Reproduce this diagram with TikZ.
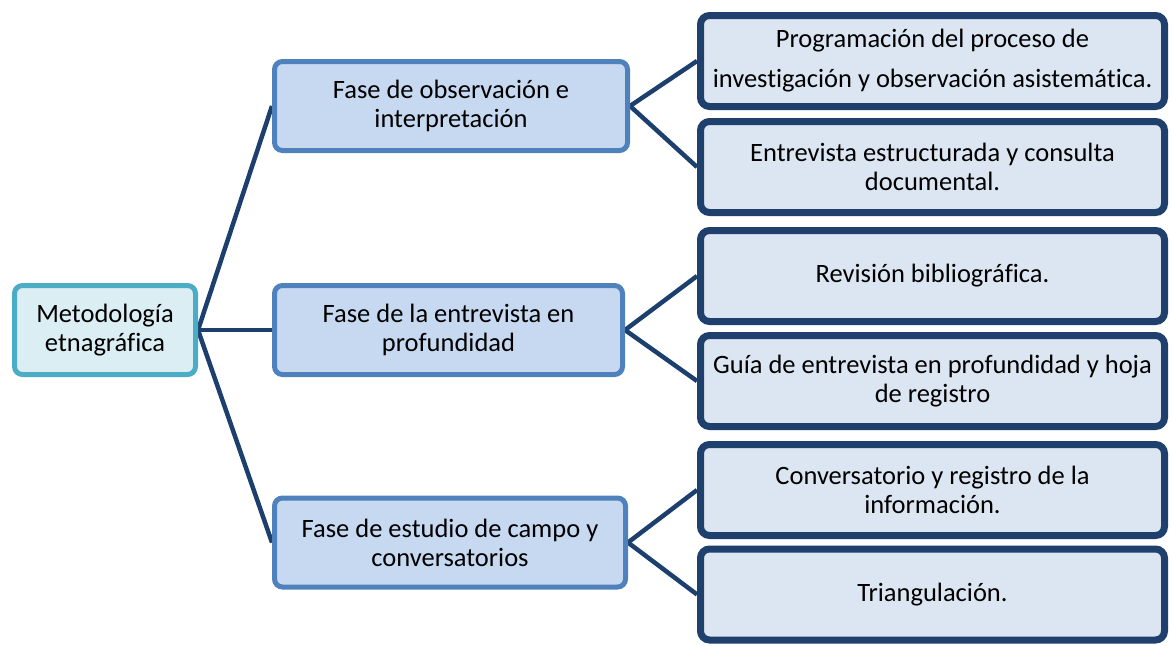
\documentclass[tikz,border=0pt]{standalone}
\usepackage{fontspec}
\setmainfont[Ligatures=CommonOff]{Carlito}
\usetikzlibrary{backgrounds}
\definecolor{linec}{HTML}{1C3F6E}
\definecolor{rootfill}{HTML}{DAEEF3}
\definecolor{rootdraw}{HTML}{4BACC6}
\definecolor{midfill}{HTML}{C6D9F1}
\definecolor{middraw}{HTML}{4F81BD}
\definecolor{rightfill}{HTML}{DCE6F2}
\definecolor{rightdraw}{HTML}{1F3F6C}
\tikzset{
  every node/.style={font=\fontsize{26.5pt}{29pt}\selectfont, align=center, inner sep=0pt},
  rootbox/.style={draw=rootdraw, fill=rootfill, line width=5pt, rounded corners=8pt, minimum width=181pt, minimum height=89pt},
  midbox/.style={draw=middraw, fill=midfill, line width=5pt, rounded corners=8pt, minimum height=89pt},
  rightbox/.style={draw=rightdraw, fill=rightfill, line width=7pt, rounded corners=9pt, minimum width=464pt, minimum height=91pt},
  conn/.style={draw=linec, line width=4.5pt}
}
\begin{document}
\begin{tikzpicture}[x=1pt,y=-1pt]
\useasboundingbox (0,0) rectangle (1172,645);
\node[rootbox] (root) at (105,330) {Metodología\\etnagráfica};
\node[midbox, minimum width=353pt] (m1) at (451,106) {Fase de observación e\\interpretación};
\node[midbox, minimum width=348pt] (m2) at (448.5,330) {Fase de la entrevista en\\profundidad};
\node[midbox, minimum width=351pt] (m3) at (450,542.5) {Fase de estudio de campo y\\conversatorios};
\node[rightbox, font=\fontsize{26.5pt}{40pt}\selectfont] (r1) at (932.5,61) {Programación del proceso de\\investigación y observación asistemática.};
\node[rightbox] (r2) at (932.5,167) {Entrevista estructurada y consulta\\documental.};
\node[rightbox] (r3) at (932.5,276) {Revisión bibliográfica.};
\node[rightbox] (r4) at (932.5,381) {Guía de entrevista en profundidad y hoja\\de registro};
\node[rightbox] (r5) at (932.5,490) {Conversatorio y registro de la\\información.};
\node[rightbox] (r6) at (932.5,594.5) {Triangulación.};
\begin{scope}[on background layer]
\draw[conn] (root.east) -- (m1.west);
\draw[conn] (root.east) -- (m2.west);
\draw[conn] (root.east) -- (m3.west);
\draw[conn] (m1.east) -- (r1.west);
\draw[conn] (m1.east) -- (r2.west);
\draw[conn] (m2.east) -- (r3.west);
\draw[conn] (m2.east) -- (r4.west);
\draw[conn] (m3.east) -- (r5.west);
\draw[conn] (m3.east) -- (r6.west);
\end{scope}
\end{tikzpicture}
\end{document}
